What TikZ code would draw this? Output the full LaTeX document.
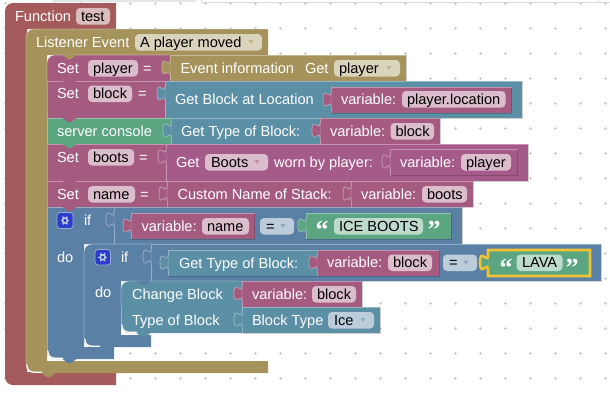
\documentclass[tikz,border=0pt]{standalone}
\usepackage{fontspec}
\setmainfont{Liberation Sans}
\newfontfamily\quotefont{Liberation Serif}
\definecolor{cred}{HTML}{A55B5B}
\definecolor{ctan}{HTML}{A5935B}
\definecolor{cmag}{HTML}{A55B80}
\definecolor{cmagb}{HTML}{A55B8A}
\definecolor{cblu}{HTML}{5B80A5}
\definecolor{ctea}{HTML}{5B8FA5}
\definecolor{cgrn}{HTML}{5BA580}
\definecolor{fmag}{HTML}{DBBDCC}
\definecolor{fred}{HTML}{DBBDBD}
\definecolor{ftan}{HTML}{DBD4BD}
\definecolor{fblu}{HTML}{BDCCDB}
\definecolor{fgrn}{HTML}{BDDBCC}
\definecolor{cyel}{HTML}{F1C232}
\newcount\nodecnt
\tikzset{
  lbl/.style={anchor=base west,inner sep=0pt,outer sep=0pt,text=white,font=\fontsize{14.6}{16}\selectfont},
  flbl/.style={lbl,text=black},
  qlbl/.style={anchor=base,inner sep=0pt,text=white,font=\quotefont\bfseries\fontsize{26}{26}\selectfont},
  hi/.style={draw=white,draw opacity=.35,line width=.8pt},
  lo/.style={draw=black,draw opacity=.18,line width=.8pt},
  white corner/.style={draw=white,line width=1.3pt,line cap=round},
}
% corners, drawn as curves: top-left going up then right, bottom-left going down then right
\newcommand{\tlc}[2]{(#1,#2+8) .. controls (#1,#2+3.6) and (#1+3.6,#2) .. (#1+8,#2)}
\newcommand{\blc}[2]{(#1,#2-8) .. controls (#1,#2-3.6) and (#1+3.6,#2) .. (#1+8,#2)}
% plain block: colour x1 y1 x2 y2
\newcommand{\blk}[5]{%
  \fill[#1] (#2,#3) rectangle (#4,#5);
  \draw[lo] (#2,#5) -- (#4,#5) -- (#4,#3);
  \draw[hi] (#2,#5) -- (#2,#3) -- (#4,#3);
}
% block with rounded top-left corner
\newcommand{\blkr}[5]{%
  \fill[#1] (#2,#5) -- \tlc{#2}{#3} -- (#4,#3) -- (#4,#5) -- cycle;
  \draw[lo] (#2,#5) -- (#4,#5) -- (#4,#3);
  \draw[hi] (#2,#5) -- \tlc{#2}{#3} -- (#4,#3);
}
% white inner highlight of a bottom-left corner: x ybottom
\newcommand{\wcorner}[2]{\draw[white corner] (#1+.8,#2-8) .. controls (#1+.8,#2-3.6) and (#1+3.6,#2-.8) .. (#1+8,#2-.8) -- (#1+16,#2-.8);}
% next-connection bump: colour x y
\newcommand{\bump}[3]{%
  \fill[#1] (#2+15,#3-.5) -- (#2+21,#3+4) -- (#2+24,#3+4) -- (#2+30,#3-.5) -- cycle;
}
% output tab: colour x y
\newcommand{\tabb}[3]{%
  \fill[#1] (#2+.5,#3+5) -- (#2,#3+5) .. controls (#2,#3+15) and (#2-8,#3-3) .. (#2-8,#3+12.5)
     .. controls (#2-8,#3+28) and (#2,#3+10) .. (#2,#3+20) -- (#2+.5,#3+20) -- cycle;
  \draw[draw=white,draw opacity=.4,line width=.7pt] (#2,#3+5) .. controls (#2,#3+15) and (#2-8,#3-3) .. (#2-8,#3+12.5)
     .. controls (#2-8,#3+28) and (#2,#3+10) .. (#2,#3+20);
}
% white text: x base text
\newcommand{\txt}[3]{\global\advance\nodecnt by 1 \node[lbl] (n\the\nodecnt) at (#1,#2) {#3};}
% field: colour x1 x2 base textx text
\newcommand{\fld}[6]{%
  \fill[#1,rounded corners=4] (#2,#4-13) rectangle (#3,#4+3.5);
  \global\advance\nodecnt by 1 \node[flbl] (n\the\nodecnt) at (#5,#4) {#6};
}
% dropdown arrow: x base colour
\newcommand{\arr}[3]{\fill[#3] (#1-2.5,#2-7) -- (#1+2.5,#2-7) -- (#1,#2-3) -- cycle;}
% quotes
\newcommand{\qts}[3]{%
  \global\advance\nodecnt by 1 \node[qlbl] (n\the\nodecnt) at (#1,#3+7.5) {“};
  \global\advance\nodecnt by 1 \node[qlbl] (n\the\nodecnt) at (#2,#3+7.5) {”};
}
% gear icon: x y size
\newcommand{\gear}[3]{%
  \fill[fill={rgb,255:red,45;green,60;blue,205},draw=fblu!60!cblu,line width=.8pt,rounded corners=3] (#1,#2) rectangle (#1+#3,#2+#3);
  \foreach \a in {0,60,...,300}
    \draw[fblu,line width=1.5pt] ({#1+#3/2+2.6*cos(\a)},{#2+#3/2+2.6*sin(\a)}) -- ({#1+#3/2+4.4*cos(\a)},{#2+#3/2+4.4*sin(\a)});
  \draw[fblu,line width=1.5pt] (#1+#3/2,#2+#3/2) circle[radius=2.5];
}
\begin{document}
\begin{tikzpicture}[x=1pt,y=-1pt]
\useasboundingbox (0,0) rectangle (610,400);
\fill[white] (0,0) rectangle (610,400);
% page edge above the workspace
\fill[black!10] (52,0) rectangle (196,2.4);
\draw[black!14,line width=.8pt] (201,0) -- (201,2.4) -- (610,2.4);
\draw[black!14,line width=.8pt] (598,0) -- (598,2.4);
% workspace grid
\foreach \i in {0,...,24} \foreach \j in {0,...,15} {
  \draw[black!20,line width=.6pt] (5+25*\i-1.5,3+25*\j) -- (5+25*\i+1.5,3+25*\j);
  \draw[black!20,line width=.6pt] (5+25*\i,3+25*\j-1.5) -- (5+25*\i,3+25*\j+1.5);
}
% Function block
\fill[cred] \blc{5}{385} -- (116,385) -- (116,372) -- (27,372) -- (27,29) -- (116,29) -- (116,3) -- (13,3) .. controls (8.6,3) and (5,6.6) .. (5,11) -- cycle;
\txt{15}{21}{Function}
\fld{fred}{76}{110}{21}{81}{test}
% Listener block
\fill[ctan] \blc{26}{373} -- (268,373) -- (268,361) -- (47,361) -- (47,55) -- (268,55) -- (268,29) -- (34,29) .. controls (29.6,29) and (26,32.6) .. (26,37) -- cycle;
\draw[hi] (26,365) -- \tlc{26}{29} -- (268,29);
\wcorner{26}{373}
\bump{ctan}{26}{373}
\txt{36}{47}{Listener Event}
\fld{ftan}{135}{262}{47}{140}{A player moved}
\arr{251}{47}{ctan!70!white}
% Set player
\blkr{cmag}{47}{55}{170}{81}
\bump{ctan}{47}{55}
\txt{57}{73}{Set}
\fld{fmag}{88}{138}{73}{93}{player}
\txt{143}{73}{=}
\blk{ctan}{170}{55}{406}{81}
\tabb{ctan}{170}{55}
\txt{180.5}{73}{Event information}
\txt{305}{73}{Get}
\fld{ftan}{334}{400}{73}{339}{player}
\arr{389}{73}{ctan!70!white}
% Set block
\blk{cmag}{47}{81}{165}{118}
\bump{cmag}{47}{81}
\txt{57}{98.5}{Set}
\fld{fmag}{88}{132}{98.5}{93}{block}
\txt{138}{98.5}{=}
\blk{ctea}{165}{81}{522}{118}
\tabb{ctea}{165}{81}
\txt{175}{104}{Get Block at Location}
\blk{cmag}{331}{87}{511.5}{113}
\tabb{cmag}{331}{87}
\txt{341}{104}{variable:}
\fld{fmag}{402}{505.5}{104}{407}{player.location}
% server console
\blk{cgrn}{47}{118}{171}{144}
\bump{cmag}{47}{118}
\txt{57}{136}{server console}
\blk{ctea}{171}{118}{320}{144}
\tabb{ctea}{171}{118}
\txt{181}{136}{Get Type of Block:}
\blk{cmag}{320}{118}{440}{144}
\tabb{cmag}{320}{118}
\txt{330}{136}{variable:}
\fld{fmag}{390.5}{434}{136}{395.5}{block}
% Set boots
\blk{cmag}{47}{144}{166}{181}
\bump{cgrn}{47}{144}
\txt{57}{162}{Set}
\fld{fmag}{88}{134}{162}{93}{boots}
\txt{139}{162}{=}
\blk{cmagb}{166}{144}{528}{181}
\tabb{cmagb}{166}{144}
\txt{176}{167}{Get}
\fld{fmag}{205}{268}{167}{211}{Boots}
\arr{257}{167}{cmag!70!white}
\txt{274}{167}{worn by player:}
\blk{cmagb}{390}{149}{517.5}{175.5}
\tabb{cmagb}{390}{149}
\txt{400}{167}{variable:}
\fld{fmag}{461}{511}{167}{466}{player}
% Set name
\blk{cmag}{47}{181}{167}{207}
\bump{cmag}{47}{181}
\txt{57}{199}{Set}
\fld{fmag}{88}{135}{199}{93}{name}
\txt{140}{199}{=}
\blk{cmag}{167}{181}{351}{207}
\tabb{cmag}{167}{181}
\txt{177.5}{199}{Custom Name of Stack:}
\blk{cmag}{351}{181}{473}{207}
\tabb{cmag}{351}{181}
\txt{361}{199}{variable:}
\fld{fmag}{422}{467}{199}{427}{boots}
% outer if
\fill[cblu] \blc{47}{359} -- (114,359) -- (114,347) -- (84,347) -- (84,244) -- (114,244) -- (114,207) -- (47,207) -- cycle;
\draw[hi] (47,351) -- (47,207) -- (114,207);
\wcorner{47}{359}
\bump{cmag}{47}{207}
\bump{cblu}{47}{359}
\gear{57}{212.5}{16}
\txt{84}{225}{if}
\txt{57}{262}{do}
\blk{cblu}{114}{207}{462}{244}
\tabb{cblu}{114}{207}
\blk{cmag}{131}{213}{254.5}{239}
\tabb{cmag}{131}{213}
\txt{141.5}{231}{variable:}
\fld{fmag}{202}{249}{231}{207}{name}
\fld{fblu}{260}{294}{231}{266}{=}
\arr{283}{231}{cblu!70!white}
\blk{cgrn}{306}{213}{451}{239}
\tabb{cgrn}{306}{213}
\qts{322}{434}{230.5}
\fld{fgrn}{334}{423}{231}{339}{ICE BOOTS}
% inner if
\fill[cblu] \blc{84}{347} -- (151,347) -- (151,335) -- (121,335) -- (121,281) -- (151,281) -- (151,244) -- (92,244) .. controls (87.6,244) and (84,247.6) .. (84,252) -- cycle;
\draw[hi] (84,339) -- \tlc{84}{244} -- (151,244);
\wcorner{84}{347}
\bump{cblu}{84}{347}
\gear{95}{249.5}{15.5}
\txt{121}{262}{if}
\txt{95}{297.5}{do}
\blk{cblu}{151}{244}{601}{281}
\tabb{cblu}{151}{244}
\blk{ctea}{168}{250}{317}{276}
\tabb{ctea}{168}{250}
\txt{179}{268}{Get Type of Block:}
\blk{cmag}{317}{250}{439}{276}
\tabb{cmag}{317}{250}
\txt{327}{267.5}{variable:}
\fld{fmag}{388}{432}{267.5}{393}{block}
\fld{fblu}{443}{477}{267.5}{449}{=}
\arr{466}{267.5}{cblu!70!white}
\blk{cgrn}{488}{250}{590}{276}
\tabb{cgrn}{488}{250}
\draw[cyel,line width=2.6pt] (488,255) .. controls (488,265) and (480,247) .. (480,262.5) .. controls (480,278) and (488,260) .. (488,270) -- (488,276) -- (590,276) -- (590,250) -- (488,250) -- cycle;
\qts{506}{572}{268.5}
\fld{fgrn}{516.5}{562.5}{267.5}{522}{LAVA}
% Change block
\fill[ctea] (121,307) -- \tlc{121}{281} -- (242,281) -- (242,307) -- cycle;
\draw[hi] (121,307) -- \tlc{121}{281} -- (242,281);
\bump{cblu}{121}{281}
\txt{132}{299}{Change Block}
\blk{cmag}{242}{281}{362}{307}
\tabb{cmag}{242}{281}
\txt{252}{299}{variable:}
\fld{fmag}{312}{356}{299}{317}{block}
% Type of block
\fill[ctea] (121,307) -- \blc{121}{333} -- (242,333) -- (242,307) -- cycle;
\draw[hi] (121,325) -- (121,307);
\wcorner{121}{333}
\bump{ctea}{121}{333}
\txt{132}{325}{Type of Block}
\blk{ctea}{242}{307}{380}{333}
\tabb{ctea}{242}{307}
\txt{252}{325}{Block Type}
\fld{fblu}{328}{374}{325}{334}{Ice}
\arr{363}{325}{ctea!70!white}
\end{tikzpicture}
\end{document}
